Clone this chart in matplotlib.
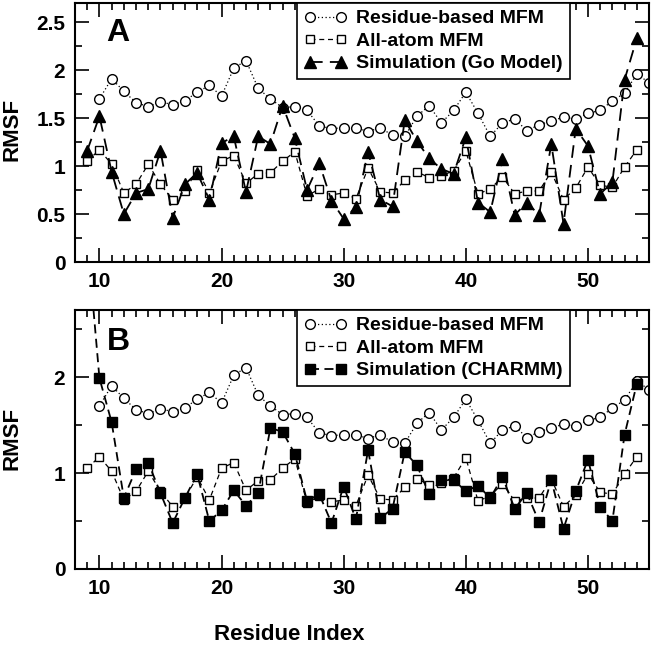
import matplotlib
matplotlib.use("Agg")
import matplotlib.pyplot as plt
from matplotlib.ticker import MultipleLocator, FixedLocator

plt.rcParams["font.family"] = ["Liberation Sans", "DejaVu Sans"]
plt.rcParams["font.weight"] = "bold"

# Residue-based MFM (starts at residue 10)
res_x = list(range(10, 56))
res_mfm = [1.70, 1.91, 1.78, 1.66, 1.62, 1.67, 1.64, 1.68, 1.77, 1.84,
           1.73, 2.02, 2.10, 1.81, 1.70, 1.61, 1.62, 1.58, 1.42, 1.39,
           1.40, 1.40, 1.36, 1.40, 1.32, 1.31, 1.52, 1.63, 1.45, 1.58,
           1.77, 1.55, 1.31, 1.45, 1.49, 1.37, 1.43, 1.47, 1.51, 1.49,
           1.55, 1.58, 1.68, 1.76, 1.96, 1.87]

# All-atom MFM (residues 9-54)
aa_x = list(range(9, 55))
aa_mfm = [1.05, 1.17, 1.02, 0.72, 0.81, 1.02, 0.81, 0.65, 0.74, 0.96,
          0.72, 1.05, 1.11, 0.82, 0.92, 0.93, 1.05, 1.15, 0.69, 0.76,
          0.70, 0.72, 0.66, 0.98, 0.73, 0.72, 0.85, 0.94, 0.88, 0.90,
          0.95, 1.16, 0.71, 0.76, 0.89, 0.71, 0.74, 0.74, 0.94, 0.65,
          0.77, 0.99, 0.80, 0.78, 0.99, 1.17]

# Simulation, Go model (residues 9-54)
go_x = list(range(9, 55))
go_sim = [1.16, 1.52, 0.94, 0.50, 0.72, 0.76, 1.16, 0.46, 0.81, 0.93,
          0.65, 1.24, 1.31, 0.73, 1.31, 1.23, 1.63, 1.29, 0.75, 1.03,
          0.64, 0.45, 0.57, 1.15, 0.65, 0.58, 1.48, 1.26, 1.08, 0.97,
          0.92, 1.30, 0.62, 0.52, 1.07, 0.49, 0.62, 0.49, 1.23, 0.40,
          1.39, 1.21, 0.71, 0.83, 1.90, 2.33]

# Simulation, CHARMM (residues 9-54, first point off scale)
ch_x = list(range(9, 55))
ch_sim = [3.45, 1.99, 1.53, 0.74, 1.04, 1.11, 0.79, 0.48, 0.74, 0.99,
          0.50, 0.61, 0.82, 0.66, 0.79, 1.47, 1.43, 1.20, 0.71, 0.78,
          0.48, 0.86, 0.52, 1.24, 0.53, 0.63, 1.22, 1.08, 0.78, 0.93,
          0.93, 0.81, 0.87, 0.74, 0.96, 0.63, 0.79, 0.49, 0.93, 0.42,
          0.81, 1.14, 0.65, 0.50, 1.40, 1.93]

W, H = 655, 645
fig = plt.figure(figsize=(W / 100, H / 100), dpi=100)


def frac(l, t, r, b):
    return [l / W, 1 - b / H, (r - l) / W, (b - t) / H]


axA = fig.add_axes(frac(75, 3, 649, 262))
axB = fig.add_axes(frac(75, 310, 649, 569))


def style(ax, major_y, minor_y, labels):
    ax.set_xlim(8, 55)
    ax.set_ylim(0, 2.7)
    ax.xaxis.set_major_locator(FixedLocator([10, 20, 30, 40, 50]))
    ax.xaxis.set_minor_locator(MultipleLocator(1))
    ax.yaxis.set_major_locator(FixedLocator(major_y))
    ax.yaxis.set_minor_locator(MultipleLocator(minor_y))
    ax.set_yticklabels(labels)
    ax.tick_params(which="both", direction="in", top=True, right=True,
                   width=1.2, labelsize=15)
    ax.tick_params(which="major", length=10, pad=7)
    ax.tick_params(which="minor", length=5)
    for s in ax.spines.values():
        s.set_linewidth(1.5)
    for t in ax.get_xticklabels() + ax.get_yticklabels():
        t.set_fontweight("bold")


def draw(ax, sim_x, sim_y, sim_marker, sim_ms, sim_label, sim_dash):
    ax.plot(res_x, res_mfm, color="black", ls=(0, (1, 2)), lw=0.9,
            marker="o", ms=7, mfc="white", mec="black", mew=1.0,
            label="Residue-based MFM")
    ax.plot(aa_x, aa_mfm, color="black", ls=(0, (4, 3)), lw=0.9,
            marker="s", ms=6, mfc="white", mec="black", mew=1.0,
            label="All-atom MFM")
    ax.plot(sim_x, sim_y, color="black", ls=(0, sim_dash), lw=1.3,
            marker=sim_marker, ms=sim_ms, mfc="black", mec="black",
            label=sim_label)
    leg = ax.legend(loc="upper left", bbox_to_anchor=(0.387, 1.0),
                    borderaxespad=0, numpoints=2, fancybox=False,
                    framealpha=1, edgecolor="black", handlelength=2.2,
                    handletextpad=0.5, borderpad=0.35, labelspacing=0.25,
                    prop={"weight": "bold", "size": 14})
    leg.get_frame().set_linewidth(1.2)


draw(axA, go_x, go_sim, "^", 8, "Simulation (Go Model)", (7, 4))
draw(axB, ch_x, ch_sim, "s", 6.5, "Simulation (CHARMM)", (5, 3))

style(axA, [0, 0.5, 1, 1.5, 2, 2.5], 0.25,
      ["0", "0.5", "1", "1.5", "2", "2.5"])
style(axB, [0, 1, 2], 0.5, ["0", "1", "2"])

axA.text(0.075, 0.885, "A", transform=axA.transAxes, fontsize=23,
         fontweight="bold", ha="center", va="center")
axB.text(0.075, 0.876, "B", transform=axB.transAxes, fontsize=23,
         fontweight="bold", ha="center", va="center")

fig.text(12 / W, 1 - 129 / H, "RMSF", rotation=90, fontsize=16,
         fontweight="bold", ha="center", va="center")
fig.text(12 / W, 1 - 438 / H, "RMSF", rotation=90, fontsize=16,
         fontweight="bold", ha="center", va="center")
fig.text(289 / W, 1 - 634 / H, "Residue Index", fontsize=16,
         family=["Liberation Sans Narrow", "Liberation Sans"],
         fontweight="bold", ha="center", va="center")

fig.savefig("out.png", dpi=100)
